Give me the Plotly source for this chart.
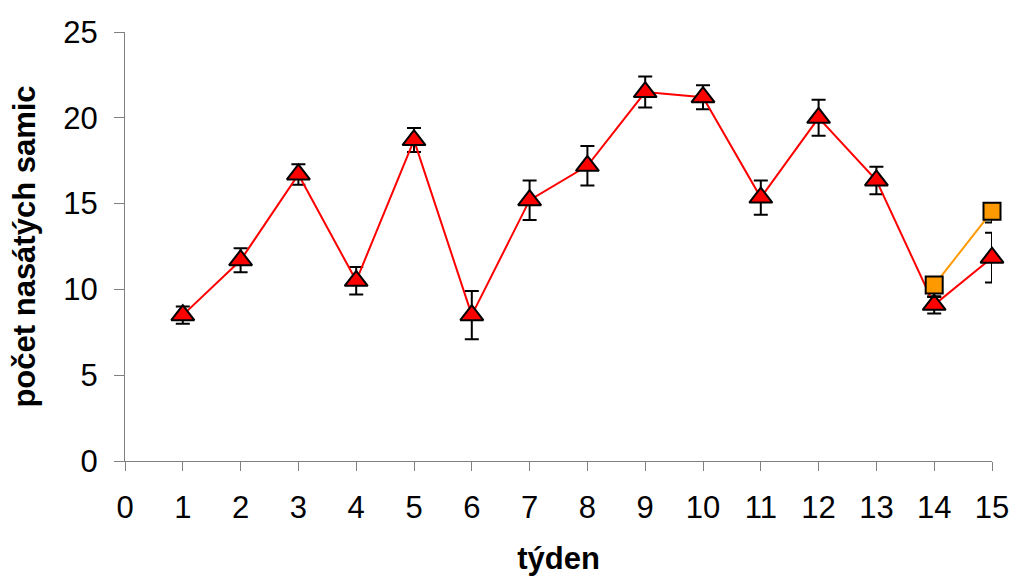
import plotly.graph_objects as go

weeks = list(range(1, 16))
tri_y = [8.5, 11.7, 16.7, 10.5, 18.7, 8.5, 15.2, 17.2, 21.5, 21.2, 15.35, 20.0, 16.35, 9.1, 11.85]
tri_err = [0.5, 0.7, 0.6, 0.8, 0.7, 1.4, 1.15, 1.15, 0.9, 0.7, 1.0, 1.05, 0.8, 0.5, 1.45]
sq_x = [14, 15]
sq_y = [10.25, 14.55]
sq_err_plus = [0.4, 0.4]
sq_err_minus = [0.7, 0.65]

x_ticks = list(range(0, 16))
y_ticks = [0, 5, 10, 15, 20, 25]

fig = go.Figure()
fig.add_trace(go.Scatter(
    x=weeks, y=tri_y, mode="lines+markers",
    line=dict(color="#FF0000", width=2),
    marker=dict(symbol="triangle-up", size=20, color="#FF0000",
                line=dict(color="black", width=2)),
    error_y=dict(type="data", array=tri_err, visible=True,
                 color="black", thickness=2, width=7),
    cliponaxis=False, showlegend=False))
fig.add_trace(go.Scatter(
    x=sq_x, y=sq_y, mode="lines+markers",
    line=dict(color="#FF9900", width=2),
    marker=dict(symbol="square", size=17, color="#FF9900",
                line=dict(color="black", width=2)),
    error_y=dict(type="data", symmetric=False, array=sq_err_plus, arrayminus=sq_err_minus,
                 visible=True, color="black", thickness=2, width=7),
    cliponaxis=False, showlegend=False))

font = "Liberation Sans, Arial, sans-serif"
fig.update_layout(
    width=1012, height=576,
    margin=dict(l=125, r=20, t=32, b=115),
    plot_bgcolor="white", paper_bgcolor="white",
    font=dict(family=font, color="black"),
    xaxis=dict(range=[0, 15], tickvals=x_ticks, ticktext=[str(v) for v in x_ticks],
               automargin=False,
               showgrid=False, zeroline=False, showline=True, linecolor="#808080", linewidth=1,
               ticks="outside", ticklen=9, tickcolor="#808080", tickwidth=1,
               tickfont=dict(size=31, family=font), ticklabelstandoff=10,
               title=dict(text="<b>týden</b>", font=dict(size=31, family=font), standoff=24)),
    yaxis=dict(range=[0, 25], tickvals=y_ticks, automargin=False,
               showgrid=False, zeroline=False, showline=True, linecolor="#808080", linewidth=1,
               ticks="outside", ticklen=10, tickcolor="#808080", tickwidth=1,
               tickfont=dict(size=31, family=font), ticklabelstandoff=10,
               title=dict(text="<b>počet nasátých samic</b>", font=dict(size=31, family=font), standoff=18)),
)
fig.write_html("out.html")
